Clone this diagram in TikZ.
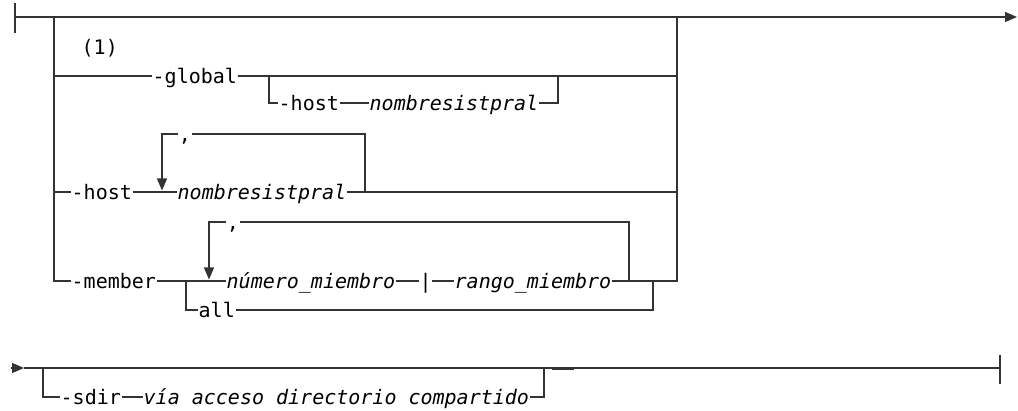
\documentclass[tikz,border=0pt]{standalone}
\usepackage{fontspec}
\setmonofont{DejaVu Sans Mono}
\usetikzlibrary{arrows.meta,positioning,calc}
\definecolor{railgray}{HTML}{333333}

\begin{document}
\begin{tikzpicture}[
  x=1pt, y=-1pt,
  rail/.style={draw=railgray, line width=1.3pt},
  kw/.style={inner xsep=0.5pt, inner ysep=0pt, text height=18pt, text depth=3pt,
    font=\ttfamily\fontsize{20}{24}\selectfont},
  var/.style={kw, font=\ttfamily\itshape\fontsize{20}{24}\selectfont},
  >={Triangle[length=12pt,width=10pt]}
]
\useasboundingbox (0,0) rectangle (1018,411);

% first line
\coordinate (tickT) at (15,3);
\coordinate (tickB) at (15,33);
\coordinate (start) at (15,17);
\coordinate (finish) at (1017,17);
\coordinate (lT) at (54,17);
\coordinate (rT) at (677,17);
\draw[rail] (tickT) -- (tickB);
\draw[rail,->] (start) -- (finish);

\node[kw, anchor=west] (note) at (81,47) {(1)};

% -global
\node[kw, anchor=west] (global) at (152,76) {-global};
\node[kw, anchor=west] (ghost) at (278,103) {-host};
\node[var, anchor=west] (gname) at (369,103) {nombresistpral};
\coordinate (gb1) at (269,76);
\coordinate (gb2) at (558,76);
\draw[rail] (lT |- global) -- (global.west);
\draw[rail] (global.east) -- (rT |- global);
\draw[rail] (gb1) |- (ghost.west);
\draw[rail] (ghost.east) -- (gname.west);
\draw[rail] (gname.east) -| (gb2);

% -host
\node[kw, anchor=west] (host) at (71,192) {-host};
\node[var, anchor=west] (hname) at (177,192) {nombresistpral};
\coordinate (hl1) at (162,134);
\coordinate (hl2) at (365,134);
\coordinate (hlA) at (162,190.5);
\node[kw] (hcomma) at (185,134) {,};
\draw[rail] (lT |- host) -- (host.west);
\draw[rail] (host.east) -- (hname.west);
\draw[rail] (hname.east) -- (rT |- hname);
\draw[rail,->] (hcomma.west) -- (hl1) -- (hlA);
\draw[rail] (hcomma.east) -- (hl2) -- (hl2 |- hname);

% -member
\node[kw, anchor=west] (member) at (71,281) {-member};
\node[var, anchor=west] (mnum) at (226,281) {número\_miembro};
\node[kw, anchor=west] (mbar) at (419,281) {|};
\node[var, anchor=west] (mrange) at (454,281) {rango\_miembro};
\node[kw, anchor=west] (all) at (198,310) {all};
\coordinate (ml1) at (209,222);
\coordinate (ml2) at (629,222);
\coordinate (mlA) at (209,279.5);
\node[kw] (mcomma) at (233,222) {,};
\coordinate (mb1) at (186,281);
\coordinate (mb2) at (653,281);
\draw[rail] (lT) |- (member.west);
\draw[rail] (member.east) -- (mnum.west);
\draw[rail] (mnum.east) -- (mbar.west);
\draw[rail] (mbar.east) -- (mrange.west);
\draw[rail] (rT) |- (mrange.east);
\draw[rail,->] (mcomma.west) -- (ml1) -- (mlA);
\draw[rail] (mcomma.east) -- (ml2) -- (ml2 |- mrange);
\draw[rail] (mb1) |- (all.west);
\draw[rail] (all.east) -| (mb2);

% second line
\coordinate (s2) at (11,368);
\coordinate (s2b) at (24,368);
\coordinate (e2) at (1000,368);
\coordinate (endT) at (1000,355);
\coordinate (endB) at (1000,384);
\draw[rail,->] (s2) -- (s2b);
\draw[rail] (s2b) -- (e2);
\draw[rail] (endT) -- (endB);

% -sdir
\node[kw, anchor=west] (sdir) at (60,397) {-sdir};
\node[var, anchor=west] (spath) at (143,397) {vía acceso directorio compartido};
\coordinate (sb1) at (43,368);
\coordinate (sb2) at (544,368);
\coordinate (mk1) at (552,369.5);
\coordinate (mk2) at (574,369.5);
\draw[rail] (sb1) |- (sdir.west);
\draw[rail] (sdir.east) -- (spath.west);
\draw[rail] (spath.east) -| (sb2);
\draw[rail, line width=2pt] (mk1) -- (mk2);
\end{tikzpicture}
\end{document}
